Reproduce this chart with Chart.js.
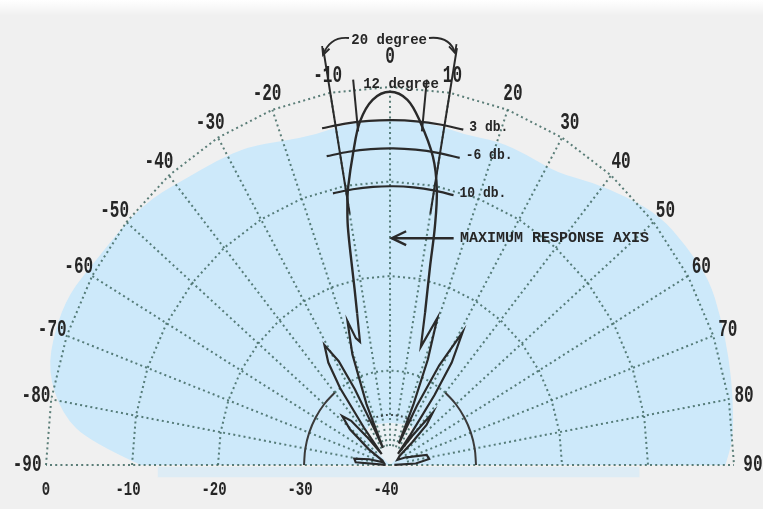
<!DOCTYPE html>
<html>
<head>
<meta charset="utf-8">
<script src="https://cdn.jsdelivr.net/npm/chart.js@4.4.0/dist/chart.umd.min.js"></script>
<style>
  html, body { margin: 0; padding: 0; background: #f0f0f0; }
  canvas { display: block; }
</style>
</head>
<body>
<canvas id="c" width="763" height="509"></canvas>
<script>
// Bearing of each grid spoke, degrees off the response axis
const angleTicks = [-90, -80, -70, -60, -50, -40, -30, -20, -10, 0, 10, 20, 30, 40, 50, 60, 70, 80, 90];
// Level rings along the base line, dB
const levelTicks = [0, -10, -20, -30, -40];
const ringLevels = [-30, -20, -10, 0];
const innerRingLevel = -34.7;
const innerRingAngles = [-30, -20, -10, 0, 10, 20, 30];

// Main lobe: bearing (deg) and level (dB)
const mainAngles = [-13.4, -12.5, -11.9, -11, -10.2, -9.4, -7.4, -5.5, -3, 0, 3, 5.5, 8.7, 10.6, 11.7, 12.5, 14.2];
const mainLevels = [-23.5, -21, -18.6, -14.3, -12, -10.2, -6.7, -3.5, -1.3, -0.5, -1.3, -3.5, -7, -10.4, -14.3, -18.5, -23.4];
const peakLevel = -0.5;

// Minor lobes, left of the axis
const leftAngles = [-90, -86, -81, -76, -70, -62, -56, -51, -47, -44, -42, -40, -37.5, -35.5, -33.5, -31, -28.5, -27, -25.5, -24.5, -23, -20.5, -18, -16.5, -15, -13.4];
const leftLevels = [-39.5, -36, -35.8, -37.5, -39.2, -39, -37, -34, -32.4, -33.5, -36, -38.5, -35, -30, -27, -25.2, -27.5, -31, -36, -38, -33, -27.5, -24, -26, -26.5, -23.5];

// Minor lobes, right of the axis
const rightAngles = [14.2, 16, 19.5, 21.5, 23, 24.5, 26.5, 28.5, 31, 33.5, 35, 36.5, 38, 40, 42, 45, 47, 49, 58, 66, 70, 76, 82, 87, 90];
const rightLevels = [-23.4, -27, -23.5, -28, -33, -37.5, -33, -28, -23.6, -27, -31, -36, -38.5, -36, -32.6, -34, -36.5, -38.5, -39, -38, -37.5, -35.6, -35.4, -37, -39.5];

// Beamwidth cuts below the peak (dB) and the bearings they span
const beamCuts = [3, 6, 10];
const cutLabels = ['3 db.', '-6 db.', '10 db.'];
const cutSpans = [[-12.5, 13.5], [-12.7, 14], [-13, 14.5]];
// Half beamwidths (deg) for the 12 and 20 degree markers
const beamHalfWidths = [6, 10];

// Extent of the tinted backing, bearing (deg) and reach (dB)
const tintAngles = [-90, -86, -82, -76, -70, -64, -58, -50, -44, -38, -32, -26, -20, -14, -8, 0, 8, 14, 20, 26, 32, 38, 44, 50, 56, 62, 68, 74, 80, 86, 90];
const tintReach  = [-11, -5, -1.5, 1, 1.5, 1.5, 0.5, 0, -0.5, -1.5, -2, -2.5, -3.5, -4, -3.5, -3.5, -3.5, -4, -3.5, -3.5, -3.5, -2, -0.5, 1, 1.5, 2, 1.5, 1, 0.5, 0, -1];
const coreAngles = [-70, -50, -30, -15, 0, 15, 30, 50, 70];
const coreReach  = [-40, -36, -35, -35.5, -35.5, -35.5, -35, -36, -40];

const deg = Math.PI / 180;
// Radial distance measured outward from the -40 dB centre
function pt(theta, db) {
  const r = db + 40;
  return { x: r * Math.sin(theta * deg), y: r * Math.cos(theta * deg) };
}

const DOT = 'rgba(64,104,98,0.85)';
const INK = '#2a2a2a';
const datasets = [];
function addLine(data, opts) {
  datasets.push(Object.assign({
    data, showLine: true, pointRadius: 0, borderWidth: 2, fill: false,
    tension: 0, borderColor: INK, borderCapStyle: 'butt'
  }, opts));
}

// spokes
angleTicks.forEach(a => {
  const start = Math.abs(a) === 90 ? -40 : -38;
  addLine([pt(a, start), pt(a, 0)], { borderColor: DOT, borderDash: [2, 3.2], order: 50 });
});

// level rings
ringLevels.forEach(L => {
  if (L === -30) {
    const mid = angleTicks.filter(a => Math.abs(a) <= 40);
    addLine(mid.map(a => pt(a, L)), { borderColor: DOT, borderDash: [2, 3.2], order: 50 });
    const lo = angleTicks.filter(a => a <= -40);
    const hi = angleTicks.filter(a => a >= 40);
    addLine(lo.map(a => pt(a, L)), { borderColor: '#3a3a3a', borderWidth: 2, tension: 0.4, order: 40 });
    addLine(hi.map(a => pt(a, L)), { borderColor: '#3a3a3a', borderWidth: 2, tension: 0.4, order: 40 });
  } else {
    addLine(angleTicks.map(a => pt(a, L)), { borderColor: DOT, borderDash: [2, 3.2], order: 50 });
  }
});
addLine(innerRingAngles.map(a => pt(a, innerRingLevel)), {
  borderColor: 'rgba(50,60,60,0.9)', borderDash: [2, 3], tension: 0.4, order: 45
});

// radiation pattern
addLine(leftAngles.map((a, i) => pt(a, leftLevels[i])), { borderWidth: 2.2, order: 10 });
addLine(rightAngles.map((a, i) => pt(a, rightLevels[i])), { borderWidth: 2.2, order: 10 });
addLine(mainAngles.map((a, i) => pt(a, mainLevels[i])), { borderWidth: 2.4, tension: 0.35, order: 10 });

// beamwidth cut arcs
beamCuts.forEach((c, i) => {
  const [a0, a1] = cutSpans[i];
  const pts = [];
  for (let k = 0; k <= 6; k++) pts.push(pt(a0 + (a1 - a0) * k / 6, peakLevel - c));
  addLine(pts, { borderWidth: 2.2, tension: 0.3, order: 5 });
});

// beamwidth marker lines
const markerReach = { 6: [-4.5, 1], 10: [-13, 4.8] };
beamHalfWidths.forEach(h => {
  const [from, to] = markerReach[h];
  [-h, h].forEach(a => addLine([pt(a, from), pt(a, to)], { borderWidth: 2, order: 5 }));
});

function stretchedText(ctx, str, x, y, font, sy, align) {
  ctx.save();
  ctx.translate(x, y);
  ctx.scale(1, sy);
  ctx.font = font;
  ctx.textAlign = align || 'center';
  ctx.textBaseline = 'middle';
  ctx.fillText(str, 0, 0);
  ctx.restore();
}
function arrowHead(ctx, tx, ty, fx, fy, len) {
  const ang = Math.atan2(ty - fy, tx - fx);
  ctx.beginPath();
  ctx.moveTo(tx - len * Math.cos(ang - 0.45), ty - len * Math.sin(ang - 0.45));
  ctx.lineTo(tx, ty);
  ctx.lineTo(tx - len * Math.cos(ang + 0.45), ty - len * Math.sin(ang + 0.45));
  ctx.stroke();
}
// closed smooth region from the centre out to an edge given in polar terms
function fillRegion(ctx, X, Y, angles, reach, color) {
  const p = angles.map((a, i) => pt(a, reach[i])).map(q => [X(q.x), Y(q.y)]);
  ctx.beginPath();
  ctx.moveTo(X(0), Y(0));
  ctx.lineTo(p[0][0], p[0][1]);
  for (let i = 1; i < p.length - 1; i++) {
    const mx = (p[i][0] + p[i + 1][0]) / 2, my = (p[i][1] + p[i + 1][1]) / 2;
    ctx.quadraticCurveTo(p[i][0], p[i][1], mx, my);
  }
  ctx.lineTo(p[p.length - 1][0], p[p.length - 1][1]);
  ctx.closePath();
  ctx.fillStyle = color;
  ctx.fill();
}

const paper = {
  id: 'paper',
  beforeDraw(chart) {
    const { ctx, width, height } = chart;
    ctx.save();
    ctx.fillStyle = '#f0f0f0';
    ctx.fillRect(0, 0, width, height);
    const g = ctx.createLinearGradient(0, 0, 0, 16);
    g.addColorStop(0, '#ffffff');
    g.addColorStop(1, 'rgba(255,255,255,0)');
    ctx.fillStyle = g;
    ctx.fillRect(0, 0, width, 16);
    ctx.restore();
  },
  beforeDatasetsDraw(chart) {
    const { ctx, scales } = chart;
    const X = v => scales.x.getPixelForValue(v);
    const Y = v => scales.y.getPixelForValue(v);
    ctx.save();
    fillRegion(ctx, X, Y, tintAngles, tintReach, '#cde9fa');
    fillRegion(ctx, X, Y, coreAngles, coreReach, 'rgba(238,242,243,0.9)');
    // faint wash just under the base line
    ctx.fillStyle = 'rgba(205,233,250,0.55)';
    ctx.fillRect(X(-27), Y(-0.2), X(29) - X(-27), Y(-1.3) - Y(-0.2));
    ctx.restore();
  },
  afterDatasetsDraw(chart) {
    const { ctx, scales } = chart;
    const X = v => scales.x.getPixelForValue(v);
    const Y = v => scales.y.getPixelForValue(v);
    ctx.save();
    ctx.fillStyle = '#262626';
    ctx.strokeStyle = INK;

    // bearing labels round the rim
    angleTicks.forEach(a => {
      const r = a === 0 ? 3.2 : (Math.abs(a) === 90 ? 2.2 : 1.8);
      const p = pt(a, r);
      stretchedText(ctx, String(a), X(p.x), Y(p.y), 'bold 16px "Liberation Mono"', 1.45);
    });

    // level labels under the base line
    levelTicks.forEach(L => {
      const p = pt(-90, L);
      stretchedText(ctx, String(L), X(p.x) - (L < 0 ? 4 : 0), Y(-2.65), 'bold 14px "Liberation Mono"', 1.5);
    });

    // beamwidth notes
    const note = 'bold 14px "Liberation Mono"';
    stretchedText(ctx, '20 degree', X(-0.1), Y(44.97), note, 1.05);
    stretchedText(ctx, '12 degree', X(1.28), Y(40.3), note, 1.05);
    beamCuts.forEach((c, i) => {
      const a1 = cutSpans[i][1];
      const p = pt(a1, peakLevel - c);
      stretchedText(ctx, cutLabels[i], X(p.x) + 6, Y(p.y) - 2, 'bold 13px "Liberation Mono"', 1.1, 'left');
    });

    // curved arrows spanning the 20 degree marker
    ctx.lineWidth = 1.8;
    ctx.beginPath();
    ctx.moveTo(X(-4.77), Y(45.19));
    ctx.quadraticCurveTo(X(-6.98), Y(45.4), X(-7.79), Y(43.39));
    ctx.stroke();
    arrowHead(ctx, X(-7.79), Y(43.39), X(-6.98), Y(45.4), 9);
    ctx.beginPath();
    ctx.moveTo(X(4.53), Y(45.19));
    ctx.quadraticCurveTo(X(6.98), Y(45.4), X(7.56), Y(43.6));
    ctx.stroke();
    arrowHead(ctx, X(7.56), Y(43.6), X(6.98), Y(45.4), 9);

    // response axis pointer
    ctx.lineWidth = 2.4;
    ctx.beginPath();
    ctx.moveTo(X(7.4), Y(24));
    ctx.lineTo(X(0.2), Y(24));
    ctx.stroke();
    arrowHead(ctx, X(0.2), Y(24), X(7.4), Y(24), 16);
    stretchedText(ctx, 'MAXIMUM RESPONSE AXIS', X(8.14), Y(24), 'bold 15px "Liberation Mono"', 1.0, 'left');
    ctx.restore();
  }
};

new Chart(document.getElementById('c'), {
  type: 'scatter',
  data: { datasets },
  options: {
    responsive: false,
    animation: false,
    events: [],
    layout: { padding: 0 },
    plugins: {
      legend: { display: false },
      tooltip: { enabled: false },
      title: { display: false }
    },
    scales: {
      x: { type: 'linear', min: -45.35, max: 43.37, display: false },
      y: { type: 'linear', min: -4.66, max: 49.21, display: false }
    }
  },
  plugins: [paper]
});
</script>
</body>
</html>
